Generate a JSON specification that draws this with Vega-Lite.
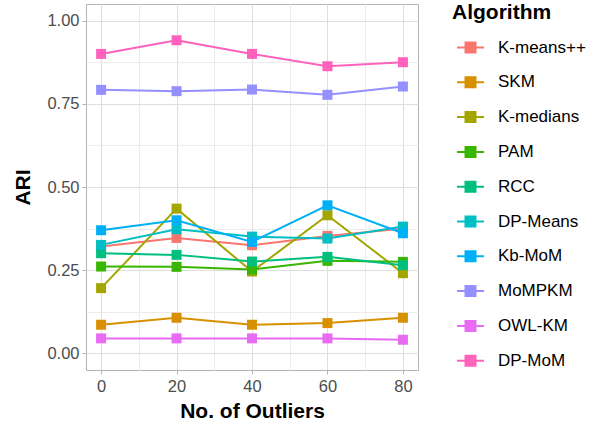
{
  "$schema": "https://vega.github.io/schema/vega-lite/v6.json",
  "autosize": {"type": "none"},
  "width": 332,
  "height": 366,
  "padding": {"left": 86, "top": 4, "right": 179, "bottom": 55},
  "background": "white",
  "config": {
    "view": {"stroke": "#B3B3B3", "strokeWidth": 1},
    "font": "Liberation Sans",
    "axis": {
      "domain": false,
      "labelFont": "Liberation Sans",
      "labelFontSize": 16.5,
      "labelColor": "#4D4D4D",
      "titleFont": "Liberation Sans",
      "titleFontSize": 21,
      "titleFontWeight": "bold",
      "titleColor": "black",
      "tickSize": 4,
      "tickWidth": 1
    }
  },
  "data": {
    "values": [
      {"x": 0, "a": "K-means++", "v": 0.321},
      {"x": 20, "a": "K-means++", "v": 0.347},
      {"x": 40, "a": "K-means++", "v": 0.325},
      {"x": 60, "a": "K-means++", "v": 0.353},
      {"x": 80, "a": "K-means++", "v": 0.375},
      {"x": 0, "a": "SKM", "v": 0.086},
      {"x": 20, "a": "SKM", "v": 0.107},
      {"x": 40, "a": "SKM", "v": 0.086},
      {"x": 60, "a": "SKM", "v": 0.091},
      {"x": 80, "a": "SKM", "v": 0.107},
      {"x": 0, "a": "K-medians", "v": 0.196},
      {"x": 20, "a": "K-medians", "v": 0.435},
      {"x": 40, "a": "K-medians", "v": 0.246},
      {"x": 60, "a": "K-medians", "v": 0.415},
      {"x": 80, "a": "K-medians", "v": 0.241},
      {"x": 0, "a": "PAM", "v": 0.261},
      {"x": 20, "a": "PAM", "v": 0.260},
      {"x": 40, "a": "PAM", "v": 0.252},
      {"x": 60, "a": "PAM", "v": 0.278},
      {"x": 80, "a": "PAM", "v": 0.275},
      {"x": 0, "a": "RCC", "v": 0.301},
      {"x": 20, "a": "RCC", "v": 0.296},
      {"x": 40, "a": "RCC", "v": 0.276},
      {"x": 60, "a": "RCC", "v": 0.290},
      {"x": 80, "a": "RCC", "v": 0.265},
      {"x": 0, "a": "DP-Means", "v": 0.326},
      {"x": 20, "a": "DP-Means", "v": 0.373},
      {"x": 40, "a": "DP-Means", "v": 0.351},
      {"x": 60, "a": "DP-Means", "v": 0.345},
      {"x": 80, "a": "DP-Means", "v": 0.381},
      {"x": 0, "a": "Kb-MoM", "v": 0.370},
      {"x": 20, "a": "Kb-MoM", "v": 0.400},
      {"x": 40, "a": "Kb-MoM", "v": 0.335},
      {"x": 60, "a": "Kb-MoM", "v": 0.445},
      {"x": 80, "a": "Kb-MoM", "v": 0.361},
      {"x": 0, "a": "MoMPKM", "v": 0.792},
      {"x": 20, "a": "MoMPKM", "v": 0.788},
      {"x": 40, "a": "MoMPKM", "v": 0.793},
      {"x": 60, "a": "MoMPKM", "v": 0.777},
      {"x": 80, "a": "MoMPKM", "v": 0.802},
      {"x": 0, "a": "OWL-KM", "v": 0.045},
      {"x": 20, "a": "OWL-KM", "v": 0.045},
      {"x": 40, "a": "OWL-KM", "v": 0.045},
      {"x": 60, "a": "OWL-KM", "v": 0.045},
      {"x": 80, "a": "OWL-KM", "v": 0.041},
      {"x": 0, "a": "DP-MoM", "v": 0.900},
      {"x": 20, "a": "DP-MoM", "v": 0.941},
      {"x": 40, "a": "DP-MoM", "v": 0.900},
      {"x": 60, "a": "DP-MoM", "v": 0.863},
      {"x": 80, "a": "DP-MoM", "v": 0.875}
    ]
  },
  "encoding": {
    "x": {
      "field": "x",
      "type": "quantitative",
      "title": "No. of Outliers",
      "scale": {"domain": [-4, 84], "nice": false, "zero": false},
      "axis": {
        "values": [0, 10, 20, 30, 40, 50, 60, 70, 80],
        "labelExpr": "datum.value % 20 == 0 ? format(datum.value, 'd') : ''",
        "gridColor": {"condition": {"test": "datum.value % 20 == 0", "value": "#DEDEDE"}, "value": "#ECECEC"},
        "tickColor": {"condition": {"test": "datum.value % 20 == 0", "value": "#B3B3B3"}, "value": "transparent"},
        "labelPadding": 4,
        "titlePadding": 6
      }
    },
    "y": {
      "field": "v",
      "type": "quantitative",
      "title": "ARI",
      "scale": {"domain": [-0.05, 1.05], "nice": false, "zero": false},
      "axis": {
        "values": [0, 0.125, 0.25, 0.375, 0.5, 0.625, 0.75, 0.875, 1],
        "labelExpr": "(datum.value * 8) % 2 == 0 ? format(datum.value, '.2f') : ''",
        "gridColor": {"condition": {"test": "(datum.value * 8) % 2 == 0", "value": "#DEDEDE"}, "value": "#ECECEC"},
        "tickColor": {"condition": {"test": "(datum.value * 8) % 2 == 0", "value": "#B3B3B3"}, "value": "transparent"},
        "labelPadding": 3,
        "titlePadding": 13
      }
    },
    "color": {
      "field": "a",
      "type": "nominal",
      "title": "Algorithm",
      "scale": {
        "domain": ["K-means++", "SKM", "K-medians", "PAM", "RCC", "DP-Means", "Kb-MoM", "MoMPKM", "OWL-KM", "DP-MoM"],
        "range": ["#F8766D", "#D89000", "#A3A500", "#39B600", "#00BF7D", "#00BFC4", "#00B0F6", "#9590FF", "#E76BF3", "#FF62BC"]
      },
      "legend": {
        "orient": "none",
        "legendX": 366,
        "legendY": -2,
        "titleFont": "Liberation Sans",
        "titleFontSize": 21,
        "titleFontWeight": "bold",
        "titleColor": "black",
        "titlePadding": 10,
        "labelFont": "Liberation Sans",
        "labelFontSize": 17,
        "labelColor": "black",
        "labelOffset": 13,
        "symbolType": "M-1,0H1M-0.37,-0.37H0.37V0.37H-0.37Z",
        "symbolSize": 729,
        "symbolStrokeWidth": 2,
        "symbolOffset": 4,
        "rowPadding": 10.8,
        "padding": 0,
        "encode": {
          "symbols": {
            "update": {
              "fill": {"scale": "color", "field": "value"},
              "stroke": {"scale": "color", "field": "value"},
              "opacity": {"value": 1}
            }
          }
        }
      }
    }
  },
  "layer": [
    {"mark": {"type": "line", "strokeWidth": 2}},
    {"mark": {"type": "point", "shape": "square", "filled": true, "size": 100, "opacity": 1}}
  ]
}
